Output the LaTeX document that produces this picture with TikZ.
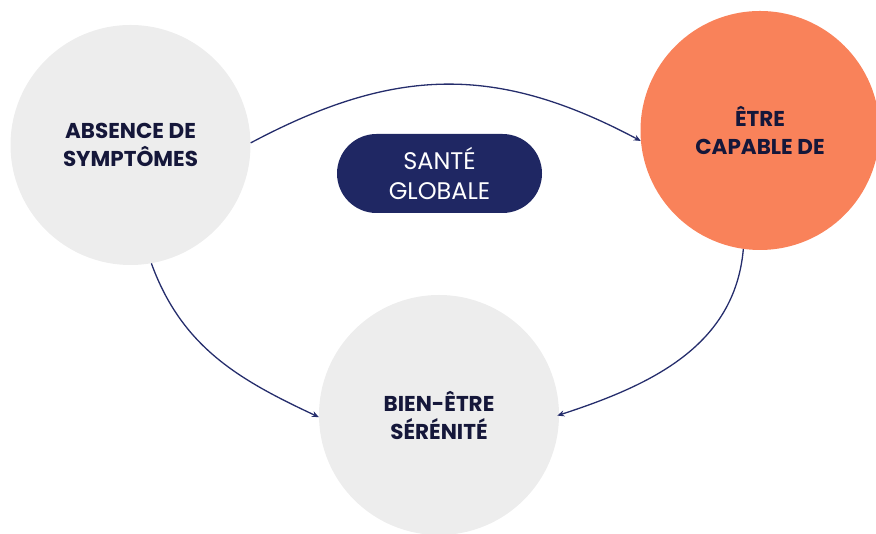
\documentclass[tikz,border=0pt]{standalone}
\usepackage{fontspec}
\setmainfont{Poppins}
\usetikzlibrary{arrows.meta}
\definecolor{circgray}{HTML}{EDEDED}
\definecolor{orangec}{HTML}{F9825A}
\definecolor{navy}{HTML}{1F2763}
\definecolor{txtdark}{HTML}{15173A}
\definecolor{arrowc}{HTML}{252D6C}
\tikzset{
  bubble/.style={circle, minimum size=240pt, inner sep=0pt, fill=circgray,
    align=center, text=txtdark, font=\bfseries\fontsize{21.5}{28}\selectfont},
  pill/.style={rounded corners=39.5pt, fill=navy, minimum width=205pt, minimum height=79pt,
    inner sep=0pt, align=center, text=white, font=\fontsize{24}{30}\selectfont},
  link/.style={draw=arrowc, line width=1.3pt, -{Stealth[length=7pt,width=6pt]}}
}
\begin{document}
\begin{tikzpicture}[x=1pt,y=1pt]
\useasboundingbox (0,0) rectangle (876,534);
\node[bubble] (L) at (130.5,389) {ABSENCE DE\\SYMPTÔMES};
\node[bubble, fill=orangec, minimum size=239pt] (R) at (760,403.5) {ÊTRE\\CAPABLE DE};
\node[bubble] (B) at (439,119) {BIEN-ÊTRE\\SÉRÉNITÉ};
\node[pill] (P) at (439.5,360.5) {SANTÉ\\GLOBALE};
\draw[link] (L.1.5) to[out=28,in=152,looseness=1.07] (R.185);
\draw[link] (L.-80) to[out=-70,in=155,looseness=1] (B.181);
\draw[link, shorten >=-2pt] (R.262.5) to[out=-95,in=18,looseness=1] (B.0);
\end{tikzpicture}
\end{document}
